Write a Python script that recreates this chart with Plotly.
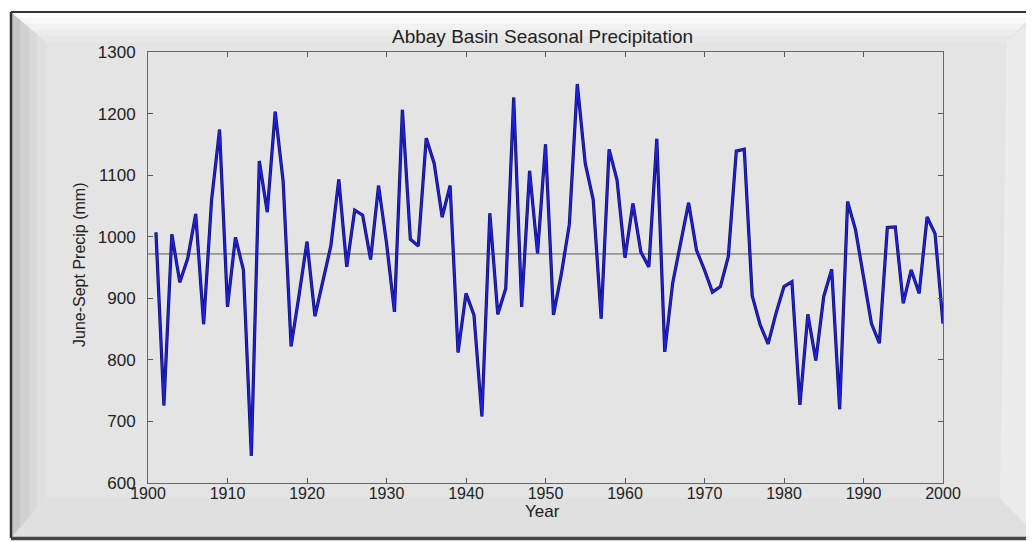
import plotly.graph_objects as go

years = list(range(1901, 2001))
precip = [1007, 726, 1004, 926, 965, 1037, 858, 1060, 1174, 886,
          999, 946, 644, 1123, 1040, 1203, 1090, 822, 905, 992,
          871, 930, 985, 1093, 951, 1043, 1035, 963, 1083, 990,
          878, 1206, 996, 985, 1160, 1119, 1032, 1083, 812, 908,
          873, 708, 1038, 874, 916, 1226, 886, 1107, 973, 1150,
          873, 940, 1020, 1248, 1119, 1060, 867, 1142, 1092, 966,
          1054, 975, 951, 1159, 813, 925, 989, 1055, 978, 946,
          910, 919, 968, 1139, 1142, 904, 857, 826, 876, 919,
          927, 727, 874, 799, 903, 947, 720, 1057, 1011, 932,
          859, 827, 1015, 1016, 892, 946, 908, 1032, 1005, 859]
mean_value = 972
mean_x = [1900, 2000]
x_ticks = list(range(1900, 2001, 10))
y_ticks = list(range(600, 1301, 100))

W, H = 1034, 542
OFF = 8  # default page body margin in the written html
L, R, T, B = 148, 943, 52, 483  # plot area in screen pixels


def px(x):
    return (x - L) / (R - L)


def py(y):
    return (B - y) / (B - T)


def path(points):
    return "M " + " L ".join(f"{px(x):.5f},{py(y):.5f}" for x, y in points) + " Z"


shapes = []
shapes.append(dict(type="rect", xref="paper", yref="paper",
                   x0=px(11), x1=px(1050), y0=py(538), y1=py(12),
                   fillcolor="#e4e4e4", line=dict(width=0), layer="below"))
top_cols = ["#fdfdfd", "#f8f8f8", "#f2f2f2", "#ececec", "#e7e7e7"]
y_top0, y_top1 = 13, 42
n = len(top_cols)
for i, c in enumerate(top_cols):
    ya = y_top0 + (y_top1 - y_top0) * i / n
    yb = y_top0 + (y_top1 - y_top0) * (i + 1) / n
    xa_l = 12 + (ya - 13) * (34 / 29)
    xb_l = 12 + (yb - 13) * (34 / 29)
    xa_r = 1034 - (ya - 13) * (27 / 29)
    xb_r = 1034 - (yb - 13) * (27 / 29)
    shapes.append(dict(type="path", xref="paper", yref="paper",
                       path=path([(xa_l, ya), (xa_r, ya), (xb_r, yb), (xb_l, yb)]),
                       fillcolor=c, line=dict(width=0), layer="below"))
left_cols = ["#c6c6c6", "#d0d0d0", "#d8d8d8", "#dfdfdf"]
x_l0, x_l1 = 12, 46
n = len(left_cols)
for i, c in enumerate(left_cols):
    xa = x_l0 + (x_l1 - x_l0) * i / n
    xb = x_l0 + (x_l1 - x_l0) * (i + 1) / n
    ya_t = 13 + (xa - 12) * (29 / 34)
    yb_t = 13 + (xb - 12) * (29 / 34)
    ya_b = 537 - (xa - 12) * (39 / 34)
    yb_b = 537 - (xb - 12) * (39 / 34)
    shapes.append(dict(type="path", xref="paper", yref="paper",
                       path=path([(xa, ya_t), (xb, yb_t), (xb, yb_b), (xa, ya_b)]),
                       fillcolor=c, line=dict(width=0), layer="below"))
shapes.append(dict(type="path", xref="paper", yref="paper",
                   path=path([(12, 537), (46, 498), (1000, 498), (1034, 532), (1034, 537)]),
                   fillcolor="#e0e0e0", line=dict(width=0), layer="below"))
shapes.append(dict(type="path", xref="paper", yref="paper",
                   path=path([(1034, 18), (1007, 42), (1000, 498), (1034, 532)]),
                   fillcolor="#ececec", line=dict(width=0), layer="below"))
shapes.append(dict(type="line", xref="paper", yref="paper",
                   x0=px(11), x1=px(1050), y0=py(12), y1=py(12),
                   line=dict(color="#333333", width=2), layer="below"))
shapes.append(dict(type="line", xref="paper", yref="paper",
                   x0=px(11), x1=px(11), y0=py(12), y1=py(538),
                   line=dict(color="#333333", width=2.5), layer="below"))
shapes.append(dict(type="line", xref="paper", yref="paper",
                   x0=px(11), x1=px(1050), y0=py(538.5), y1=py(538.5),
                   line=dict(color="#444444", width=3.5), layer="below"))

fig = go.Figure()
fig.add_trace(go.Scatter(x=mean_x, y=[mean_value, mean_value], mode="lines",
                         line=dict(color="#5a5a5a", width=1), hoverinfo="skip",
                         showlegend=False))
fig.add_trace(go.Scatter(x=years, y=precip, mode="lines",
                         line=dict(color="#10105a", width=3.2),
                         showlegend=False))
fig.add_trace(go.Scatter(x=years, y=precip, mode="lines",
                         line=dict(color="#1f1fe0", width=1.8),
                         showlegend=False))

x_tick_font = dict(family="Liberation Sans, Arial, sans-serif", size=16, color="#222222")
y_tick_font = dict(family="Liberation Sans, Arial, sans-serif", size=17, color="#222222")

fig.update_layout(
    width=W, height=H,
    margin=dict(l=L - OFF, r=W - (R - OFF), t=T - OFF, b=H - (B - OFF), pad=0),
    paper_bgcolor="#ffffff",
    plot_bgcolor="#e4e4e4",
    shapes=shapes,
    xaxis=dict(range=[1900, 2000], tickvals=x_ticks, ticktext=[str(v) for v in x_ticks],
               ticks="inside", ticklen=5, tickcolor="#555555", tickwidth=1,
               showline=True, linecolor="#666666", linewidth=1, mirror="ticks",
               showgrid=False, zeroline=False, tickfont=x_tick_font,
               ticklabelstandoff=-4),
    yaxis=dict(range=[600, 1300], tickvals=y_ticks, ticktext=[str(v) for v in y_ticks],
               ticks="inside", ticklen=5, tickcolor="#555555", tickwidth=1,
               showline=True, linecolor="#666666", linewidth=1, mirror="ticks",
               showgrid=False, zeroline=False, tickfont=y_tick_font,
               ticklabelstandoff=8),
    annotations=[
        dict(text="Abbay Basin Seasonal Precipitation", xref="paper", yref="paper",
             x=px(542), y=py(36), xanchor="center", yanchor="middle", showarrow=False,
             font=dict(family="Liberation Sans, Arial, sans-serif", size=19, color="#222222")),
        dict(text="Year", xref="paper", yref="paper",
             x=px(542), y=py(511), xanchor="center", yanchor="middle", showarrow=False,
             font=dict(family="Liberation Sans, Arial, sans-serif", size=17, color="#222222")),
        dict(text="June-Sept Precip (mm)", xref="paper", yref="paper",
             x=px(79), y=py(265), xanchor="center", yanchor="middle", showarrow=False,
             textangle=-90,
             font=dict(family="Liberation Sans, Arial, sans-serif", size=16, color="#222222")),
    ],
)

fig.write_html("out.html")
